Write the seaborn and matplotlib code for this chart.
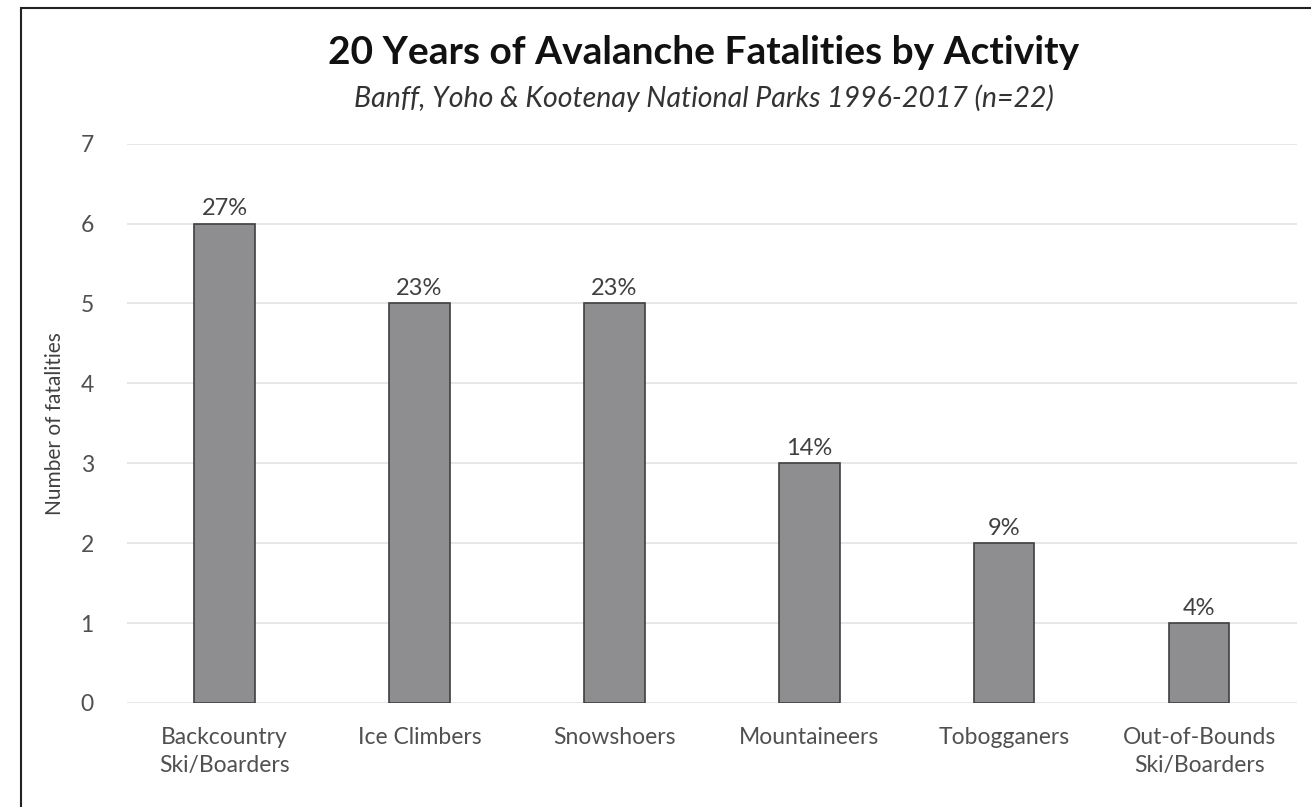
import matplotlib
matplotlib.use("Agg")
import matplotlib.pyplot as plt
import seaborn as sns
import pandas as pd
from matplotlib.patches import Rectangle

activities = ["Backcountry\nSki/Boarders", "Ice Climbers", "Snowshoers",
              "Mountaineers", "Tobogganers", "Out-of-Bounds\nSki/Boarders"]
fatalities = [6, 5, 5, 3, 2, 1]
pct_labels = ["27%", "23%", "23%", "14%", "9%", "4%"]

sns.set_theme(style="white")
plt.rcParams["font.family"] = ["Lato", "DejaVu Sans"]

df = pd.DataFrame({"activity": activities, "fatalities": fatalities})

fig = plt.figure(figsize=(13.11, 8.07), dpi=100)
ax = fig.add_axes([0.097, 0.129, 0.892, 0.693])

sns.barplot(data=df, x="activity", y="fatalities", color="#8e8e90",
            saturation=1, width=0.31, edgecolor="#3f3f3f", linewidth=1.2, ax=ax)

for p, lab in zip(ax.patches, pct_labels):
    ax.annotate(lab, (p.get_x() + p.get_width() / 2, p.get_height()),
                xytext=(0, 3), textcoords="offset points",
                ha="center", va="bottom", fontsize=17, color="#404040")

ax.set_ylim(0, 7)
ax.set_xlim(-0.5, 5.5)
ax.set_yticks(range(0, 8))
ax.yaxis.grid(True, color="#e3e3e3", linewidth=1.2)
ax.set_axisbelow(True)
for s in ax.spines.values():
    s.set_visible(False)
ax.tick_params(axis="both", length=0, labelsize=16.5, colors="#505050")
ax.tick_params(axis="x", pad=17)
ax.tick_params(axis="y", pad=24)
for t in ax.get_xticklabels():
    t.set_linespacing(1.45)
ax.set_xlabel("")
ax.set_ylabel("Number of fatalities", fontsize=15, color="#404040", labelpad=11)

fig.text(0.537, 0.935, "20 Years of Avalanche Fatalities by Activity",
         ha="center", va="center", fontsize=28, fontweight="bold", color="#111111")
fig.text(0.537, 0.878, "Banff, Yoho & Kootenay National Parks 1996-2017 (n=22)",
         ha="center", va="center", fontsize=20.5, style="italic", color="#333333")

fig.patches.append(Rectangle((0.016, -0.05), 1.2, 1.04, transform=fig.transFigure,
                             fill=False, edgecolor="#222222", linewidth=1.5))

fig.savefig("out.png", dpi=100)
